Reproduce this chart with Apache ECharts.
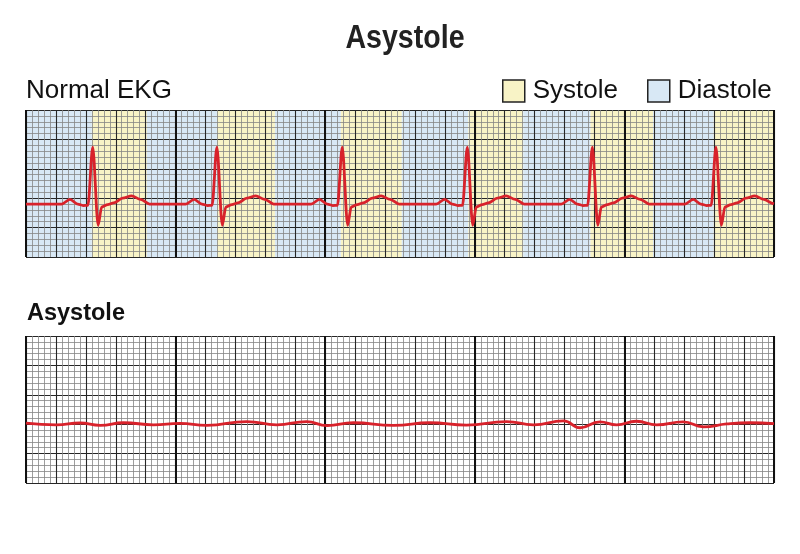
<!DOCTYPE html>
<html>
<head>
<meta charset="utf-8">
<script src="https://cdn.jsdelivr.net/npm/echarts@6/dist/echarts.min.js"></script>
<style>html,body{margin:0;padding:0;background:#fff}#c{width:800px;height:554px}</style>
</head>
<body>
<div id="c"></div>
<script>
// ---- data (x in small grid squares, y in small grid squares from the bottom of each strip) ----
const stripXMin = 0, stripXMax = 125;
const stripYMin = 0, stripYMax = 25;

const systoleBands  = [[11,20.2],[31.9,41.6],[52.6,62.8],[73.9,83.1],[94.3,104.8],[114.9,125]];
const diastoleBands = [[0,11],[20.2,31.9],[41.6,52.6],[62.8,73.9],[83.1,94.3],[104.8,114.9]];

const normalTrace = [
  [0,9],[5.95,9],[7.35,9.8],[8.65,9],[9.55,8.75],[10.35,8.8],[11.15,18.7],[12.05,5.4],[12.65,8.5],[13.65,8.9],[14.65,9.2],[16.15,10],[17.65,10.4],[19.15,9.8],[20.65,9],
  [26.7,9],[28.1,9.8],[29.4,9],[30.3,8.75],[31.1,8.8],[31.9,18.7],[32.8,5.4],[33.4,8.5],[34.4,8.9],[35.4,9.2],[36.9,10],[38.4,10.4],[39.9,9.8],[41.4,9],
  [47.65,9],[49.05,9.8],[50.35,9],[51.25,8.75],[52.05,8.8],[52.85,18.7],[53.75,5.4],[54.35,8.5],[55.35,8.9],[56.35,9.2],[57.85,10],[59.35,10.4],[60.85,9.8],[62.35,9],
  [68.55,9],[69.95,9.8],[71.25,9],[72.15,8.75],[72.95,8.8],[73.75,18.7],[74.65,5.4],[75.25,8.5],[76.25,8.9],[77.25,9.2],[78.75,10],[80.25,10.4],[81.75,9.8],[83.25,9],
  [89.45,9],[90.85,9.8],[92.15,9],[93.05,8.75],[93.85,8.8],[94.65,18.7],[95.55,5.4],[96.15,8.5],[97.15,8.9],[98.15,9.2],[99.65,10],[101.15,10.4],[102.65,9.8],[104.15,9],
  [110.1,9],[111.5,9.8],[112.8,9],[113.7,8.75],[114.5,8.8],[115.3,18.7],[116.2,5.4],[116.8,8.5],[117.8,8.9],[118.8,9.2],[120.3,10],[121.8,10.4],[123.3,9.8],[124.8,9.1],[125,9.05]
];

const asystoleTrace = [
  [0,10.2],[5.1,9.9],[9,10.2],[12.4,9.8],[16.3,10.25],[21.3,9.9],[25.7,10.15],[30.2,9.8],[36.9,10.45],
  [41.9,9.9],[46.9,10.45],[50.3,9.75],[54.7,10.25],[61.4,9.8],[67.5,10.25],[73.6,9.85],[80.3,10.45],
  [84.8,9.9],[89.8,10.55],[92.6,9.4],[95.9,10.4],[98.7,9.9],[102,10.5],[105.4,9.9],[109.8,10.4],
  [113.2,9.55],[117.1,10.05],[121,10.25],[125,10.1]
];

const titleText = 'Asystole';
const topLabel = 'Normal EKG';
const bottomLabel = 'Asystole';
const legendNames = ['Systole','Diastole'];
const bandColors = {Systole:'#f8f3c6', Diastole:'#d8e8f5'};

// ---- chart ----
const chart = echarts.init(document.getElementById('c'), null, {renderer:'canvas'});
const minorLine = {color:'#858585', width:0.8};
const majorLine = {color:'#262626', width:1.1};
const thickLine = {color:'#111', width:2};

function xAxes(gi){
  return [
    {type:'value', gridIndex:gi, min:stripXMin, max:stripXMax, interval:5, z:3,
     axisLine:{show:false}, axisTick:{show:false}, axisLabel:{show:false},
     splitLine:{show:true, lineStyle:majorLine},
     minorTick:{show:false, splitNumber:5}, minorSplitLine:{show:true, lineStyle:minorLine}},
    {type:'value', gridIndex:gi, position:'top', min:stripXMin, max:stripXMax, interval:25, z:4,
     axisLine:{show:false}, axisTick:{show:false}, axisLabel:{show:false},
     splitLine:{show:true, lineStyle:thickLine}}
  ];
}
function yAxis(gi){
  return {type:'value', gridIndex:gi, min:stripYMin, max:stripYMax, interval:5, z:3,
    axisLine:{show:false}, axisTick:{show:false}, axisLabel:{show:false},
    splitLine:{show:true, lineStyle:majorLine},
    minorTick:{show:false, splitNumber:5}, minorSplitLine:{show:true, lineStyle:minorLine}};
}
function bandSeries(name, bands){
  return {
    name:name, type:'custom', xAxisIndex:0, yAxisIndex:0, z:1,
    itemStyle:{color:bandColors[name], borderColor:'#222', borderWidth:1.5},
    encode:{x:[0,1]},
    data:bands,
    renderItem:function(params, api){
      const a = api.coord([api.value(0), stripYMax]);
      const b = api.coord([api.value(1), stripYMin]);
      return {type:'rect', shape:{x:a[0], y:a[1], width:b[0]-a[0], height:b[1]-a[1]},
              style:{fill:bandColors[name]}};
    },
    silent:true
  };
}

const option = {
  backgroundColor:'#fff',
  animation:false,
  grid:[
    {left:26, top:110, width:748, height:147, show:false},
    {left:26, top:336, width:748, height:147, show:false}
  ],
  xAxis:[].concat(xAxes(0), xAxes(1)),
  yAxis:[yAxis(0), yAxis(1)],
  legend:{
    data:legendNames, left:502, top:78, padding:0, itemWidth:22, itemHeight:22, itemGap:29,
    icon:'rect', selectedMode:false,
    itemStyle:{borderColor:'#222', borderWidth:1.5},
    textStyle:{fontFamily:'"Liberation Sans", Arial, sans-serif', fontSize:26, color:'#111', padding:[0,0,0,3]}
  },
  graphic:[
    {type:'text', x:405, y:38.5, scaleX:0.84, style:{text:titleText, align:'center', verticalAlign:'middle',
      font:'bold 34px "Liberation Sans", Arial, sans-serif', fill:'#222'}},
    {type:'text', x:26, y:91, style:{text:topLabel, align:'left', verticalAlign:'middle',
      font:'26px "Liberation Sans", Arial, sans-serif', fill:'#111'}},
    {type:'text', x:27, y:314, style:{text:bottomLabel, align:'left', verticalAlign:'middle',
      font:'bold 23.5px "Liberation Sans", Arial, sans-serif', fill:'#111'}}
  ],
  series:[
    bandSeries('Systole', systoleBands),
    bandSeries('Diastole', diastoleBands),
    {type:'line', xAxisIndex:0, yAxisIndex:0, z:5, data:normalTrace, showSymbol:false,
     smooth:0.3, smoothMonotone:'x', lineStyle:{color:'#d8222b', width:2.8}, silent:true},
    {type:'line', xAxisIndex:2, yAxisIndex:1, z:5, data:asystoleTrace, showSymbol:false,
     smooth:0.5, lineStyle:{color:'#d8222b', width:2.8}, silent:true}
  ]
};
chart.setOption(option);
</script>
</body>
</html>
